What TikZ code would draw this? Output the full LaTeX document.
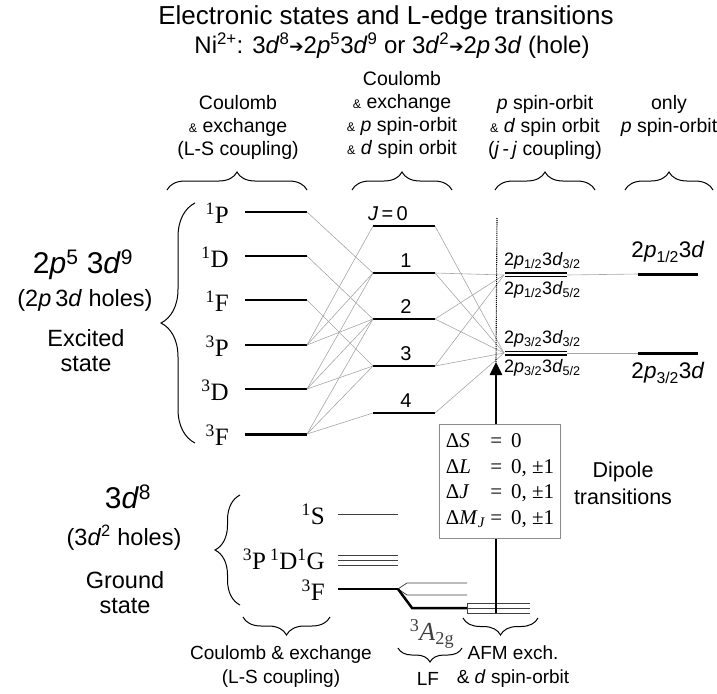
\documentclass[tikz,border=0pt]{standalone}
\usepackage{fontspec}
\setmainfont{Liberation Sans}
\newfontfamily\serif{Liberation Serif}
\newfontfamily\symfont{DejaVu Sans}
\usetikzlibrary{arrows.meta,decorations.pathreplacing}
\tikzset{
    hdr/.style={font=\fontsize{19.5}{23}\selectfont, align=center, inner sep=0pt},
    foot/.style={font=\fontsize{19}{24}\selectfont, align=center, inner sep=0pt},
    state/.style={font=\fontsize{23.5}{25}\selectfont, align=center, inner sep=0pt},
    config/.style={font=\fontsize{30}{32}\selectfont, inner sep=0pt},
    term/.style={font=\serif\fontsize{25}{25}\selectfont, anchor=east, inner sep=0pt},
    jnum/.style={font=\fontsize{20}{20}\selectfont, inner sep=0pt},
    jjlab/.style={font=\fontsize{18}{18}\selectfont, anchor=west, inner sep=0pt},
    level/.style={line width=1.5pt},
    midlevel/.style={line width=1.8pt},
    thicklevel/.style={line width=3pt},
    thinlevel/.style={line width=0.8pt, draw=black!75},
    conn/.style={draw=black!35, line width=0.6pt},
    brc/.style={decorate, decoration={brace, amplitude=#1}, line width=1pt},
    brc/.default=18pt,
    dipole/.style={-{Triangle[length=13pt, width=12pt]}, line width=2.6pt},
    rulebox/.style={draw=black!45, fill=white, line width=0.8pt, inner sep=6pt,
                    font=\serif\fontsize{21}{25.5}\selectfont},
}
\newcommand{\sm}{{\fontsize{12.5}{12}\selectfont\&}}
\newcommand{\arr}{{\symfont\fontsize{17}{14}\selectfont\raisebox{1pt}{➔}}}
\newcommand{\dl}{{\serif Δ}}

\begin{document}
\begin{tikzpicture}[x=1pt, y=-1pt]
    \path[use as bounding box] (0,0) rectangle (717,693);

    % titles
    \node[font=\fontsize{26}{26}\selectfont] (title) at (386,18)
        {Electronic states and L-edge transitions};
    \node[font=\fontsize{24}{24}\selectfont] (ion) at (392,46)
        {Ni\textsuperscript{2+}: 3\textit{d}\textsuperscript{8}\arr 2\textit{p}\textsuperscript{5}3\textit{d}\textsuperscript{9} or 3\textit{d}\textsuperscript{2}\arr 2\textit{p}\,3\textit{d} (hole)};

    % column headers
    \node[hdr] (hls) at (238,127) {Coulomb\\ \sm\ exchange\\ (L-S coupling)};
    \node[hdr] (hmix) at (402,115) {Coulomb\\ \sm\ exchange\\ \sm\ \textit{p} spin-orbit\\ \sm\ \textit{d} spin orbit};
    \node[hdr] (hjj) at (545,127) {\textit{p} spin-orbit\\ \sm\ \textit{d} spin orbit\\ (\textit{j}\,-\,\textit{j} coupling)};
    \node[hdr] (hp) at (669,116) {only\\ \textit{p} spin-orbit};
    \draw[brc] (167,190) -- (307,190);
    \draw[brc] (352,190) -- (452,190);
    \draw[brc] (495,190) -- (595,190);
    \draw[brc] (625,190) -- (713,190);

    % excited state, L-S terms
    \node[config] (exc) at (83,265) {2\textit{p}\textsuperscript{5} 3\textit{d}\textsuperscript{9}};
    \node[state] (exch) at (85,300) {(2\textit{p}\,3\textit{d} holes)};
    \node[state] (excs) at (86,351) {Excited\\ state};
    \draw[brc=34pt] (195,443) -- (195,203);

    \node[term] (tP1) at (229,213) {\textsuperscript{1}P};
    \node[term] (tD1) at (229,257) {\textsuperscript{1}D};
    \node[term] (tF1) at (229,301) {\textsuperscript{1}F};
    \node[term] (tP3) at (229,346) {\textsuperscript{3}P};
    \node[term] (tD3) at (229,390) {\textsuperscript{3}D};
    \node[term] (tF3) at (229,435) {\textsuperscript{3}F};
    \coordinate (P1a) at (245,212); \coordinate (P1b) at (307,212);
    \coordinate (D1a) at (245,256); \coordinate (D1b) at (307,256);
    \coordinate (F1a) at (245,300); \coordinate (F1b) at (307,300);
    \coordinate (P3a) at (245,345); \coordinate (P3b) at (307,345);
    \coordinate (D3a) at (245,389); \coordinate (D3b) at (307,389);
    \coordinate (F3a) at (245,434); \coordinate (F3b) at (307,434);
    \draw[level] (P1a) -- (P1b);
    \draw[level] (D1a) -- (D1b);
    \draw[level] (F1a) -- (F1b);
    \draw[level] (P3a) -- (P3b);
    \draw[level, line width=2.2pt] (D3a) -- (D3b);
    \draw[thicklevel] (F3a) -- (F3b);

    % J levels
    \coordinate (J0a) at (373,226); \coordinate (J0b) at (435,226);
    \coordinate (J1a) at (373,273); \coordinate (J1b) at (435,273);
    \coordinate (J2a) at (373,319); \coordinate (J2b) at (435,319);
    \coordinate (J3a) at (373,366); \coordinate (J3b) at (435,366);
    \coordinate (J4a) at (373,413); \coordinate (J4b) at (435,413);
    \draw[midlevel] (J0a) -- (J0b);
    \draw[midlevel] (J1a) -- (J1b);
    \draw[midlevel] (J2a) -- (J2b);
    \draw[midlevel] (J3a) -- (J3b);
    \draw[midlevel] (J4a) -- (J4b);
    \node[jnum] (n0) at (388,214) {\textit{J}\,=\,0};
    \node[jnum] (n1) at (406,261) {1};
    \node[jnum] (n2) at (406,307) {2};
    \node[jnum] (n3) at (406,354) {3};
    \node[jnum] (n4) at (406,401) {4};

    \draw[conn] (P1b) -- (J1a);
    \draw[conn] (D1b) -- (J2a);
    \draw[conn] (F1b) -- (J3a);
    \draw[conn] (P3b) -- (J0a);
    \draw[conn] (P3b) -- (J1a);
    \draw[conn] (P3b) -- (J2a);
    \draw[conn] (D3b) -- (J1a);
    \draw[conn] (D3b) -- (J2a);
    \draw[conn] (D3b) -- (J3a);
    \draw[conn] (F3b) -- (J2a);
    \draw[conn] (F3b) -- (J3a);
    \draw[conn] (F3b) -- (J4a);

    % j-j levels
    \coordinate (jjup) at (504,275); \coordinate (jjupr) at (567,275);
    \coordinate (jjlo) at (504,353); \coordinate (jjlor) at (567,353);
    \draw[line width=1.2pt] (505,273) -- (567,273);
    \draw[line width=1.2pt] (505,276.5) -- (567,276.5);
    \draw[line width=1.2pt] (505,351.5) -- (567,351.5);
    \draw[line width=1.2pt] (505,355) -- (567,355);
    \node[jjlab] (j11) at (504,261) {2\textit{p}\textsubscript{1/2}3\textit{d}\textsubscript{3/2}};
    \node[jjlab] (j12) at (504,290) {2\textit{p}\textsubscript{1/2}3\textit{d}\textsubscript{5/2}};
    \node[jjlab] (j21) at (504,339) {2\textit{p}\textsubscript{3/2}3\textit{d}\textsubscript{3/2}};
    \node[jjlab] (j22) at (504,368) {2\textit{p}\textsubscript{3/2}3\textit{d}\textsubscript{5/2}};

    \draw[conn] (J0b) -- (jjlo);
    \draw[conn] (J1b) -- (jjup);
    \draw[conn] (J1b) -- (jjlo);
    \draw[conn] (J2b) -- (jjup);
    \draw[conn] (J2b) -- (jjlo);
    \draw[conn] (J3b) -- (jjup);
    \draw[conn] (J3b) -- (jjlo);
    \draw[conn] (J4b) -- (jjlo);

    % p spin-orbit only
    \coordinate (Rup) at (638,274); \coordinate (Rupr) at (698,274);
    \coordinate (Rlo) at (638,353); \coordinate (Rlor) at (698,353);
    \draw[thicklevel] (Rup) -- (Rupr);
    \draw[thicklevel] (Rlo) -- (Rlor);
    \draw[conn] (jjupr) -- (Rup);
    \draw[conn] (jjlor) -- (Rlo);
    \node[font=\fontsize{22.5}{22}\selectfont] (rl1) at (668,252) {2\textit{p}\textsubscript{1/2}3\textit{d}};
    \node[font=\fontsize{22.5}{22}\selectfont] (rl2) at (668,373) {2\textit{p}\textsubscript{3/2}3\textit{d}};

    % ground state
    \node[config] (gs) at (128,497) {3\textit{d}\textsuperscript{8}};
    \node[state] (gsh) at (124,538) {(3\textit{d}\textsuperscript{2} holes)};
    \node[state] (gss) at (125,593) {Ground\\ state};
    \draw[brc=25pt] (240,605) -- (240,495);
    \node[term] (gS1) at (325,514) {\textsuperscript{1}S};
    \node[term] (gPDG) at (325,559) {\textsuperscript{3}P\,\textsuperscript{1}D\textsuperscript{1}G};
    \node[term] (gF3) at (325,590) {\textsuperscript{3}F};
    \draw[thinlevel] (338,514) -- (398,514);
    \draw[thinlevel] (338,555) -- (398,555);
    \draw[thinlevel] (338,560) -- (398,560);
    \draw[thinlevel] (338,565) -- (398,565);
    \coordinate (gFa) at (338,589); \coordinate (gFb) at (398,589);
    \draw[line width=2.2pt] (gFa) -- (gFb);
    \draw[thinlevel] (gFb) -- (407,583) -- (467,583);
    \draw[thinlevel] (gFb) -- (407,595) -- (467,595);
    \draw[line width=2.5pt] (gFb) -- (412,608) -- (467,608);
    \draw[thinlevel] (467,603) -- (530,603);
    \draw[thinlevel] (467,608) -- (530,608);
    \draw[thinlevel] (467,613) -- (530,613);
    \draw[thinlevel] (467,603) -- (467,613);

    % transition
    \coordinate (gnd) at (496,613);
    \coordinate (top) at (496,362);
    \coordinate (dtop) at (497,218);
    \draw[densely dotted, line width=1.1pt] (dtop) -- (top);
    \draw[dipole] (gnd) -- (top);
    \node[rulebox] (rules) at (500,481) {%
        \begin{tabular}{@{}l@{\hspace{5pt}}c@{\hspace{9pt}}l@{}}
        \dl\textit{S} & = & 0\\
        \dl\textit{L} & = & 0, ±1\\
        \dl\textit{J} & = & 0, ±1\\
        \dl\textit{M}\textsubscript{\textit{J}} & = & 0, ±1
        \end{tabular}};
    \node[font=\fontsize{21.5}{27}\selectfont, align=center] (dip) at (623,483) {Dipole\\ transitions};

    % bottom labels
    \draw[brc] (330,617) -- (243,617);
    \draw[brc=14pt] (462,648) -- (398,648);
    \draw[brc=17pt] (538,618) -- (463,618);
    \node[font=\serif\fontsize{26}{26}\selectfont, text=black!75] (a2g) at (432,634)
        {\textsuperscript{3}\textit{A}\textsubscript{2g}};
    \node[foot] (bls) at (281,667) {Coulomb \& exchange\\ (L-S coupling)};
    \node[foot] (blf) at (428,679) {LF};
    \node[foot] (bafm) at (513,667) {AFM exch.\\ \& \textit{d} spin-orbit};

\end{tikzpicture}
\end{document}
